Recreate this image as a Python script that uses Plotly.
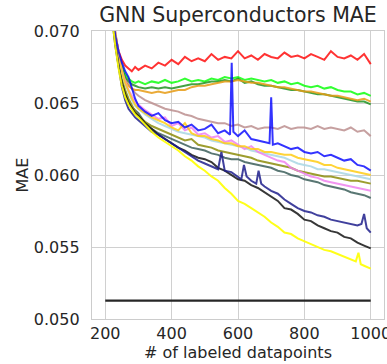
import plotly.graph_objects as go

x_common = [200, 210, 220, 230, 240, 250, 260, 270, 280, 290, 300, 320, 340, 360, 380, 400,
            420, 440, 460, 480, 500, 520, 540, 560, 580, 600, 620, 640, 660, 680, 700, 720,
            740, 760, 780, 800, 820, 840, 860, 880, 900, 920, 940, 960, 980, 1000]

red_y = [0.0790, 0.0752, 0.0718, 0.0698, 0.0686, 0.0680, 0.0676, 0.0674, 0.0672, 0.0675, 0.0673,
         0.0676, 0.0674, 0.0678, 0.0676, 0.0680, 0.0677, 0.0682, 0.0679, 0.0681, 0.0679, 0.0684,
         0.0680, 0.0682, 0.0681, 0.0686, 0.0681, 0.0683, 0.0680, 0.0684, 0.0682, 0.0681, 0.0685,
         0.0682, 0.0683, 0.0681, 0.0684, 0.0682, 0.0680, 0.0686, 0.0682, 0.0681, 0.0683, 0.0680,
         0.0684, 0.0677]
lime_y = [0.0785, 0.0748, 0.0714, 0.0696, 0.0684, 0.0676, 0.0670, 0.0667, 0.0665, 0.0664, 0.0665,
          0.0663, 0.0665, 0.0664, 0.0666, 0.0664, 0.0665, 0.0667, 0.0665, 0.0666, 0.0665, 0.0667,
          0.0666, 0.0668, 0.0667, 0.0668, 0.0666, 0.0667, 0.0666, 0.0665, 0.0666, 0.0664, 0.0665,
          0.0663, 0.0664, 0.0662, 0.0661, 0.0662, 0.0660, 0.0661, 0.0659, 0.0658, 0.0658, 0.0656,
          0.0657, 0.0655]
green_y = [0.0785, 0.0747, 0.0713, 0.0695, 0.0683, 0.0674, 0.0668, 0.0665, 0.0663, 0.0662, 0.0661,
           0.0660, 0.0661, 0.0660, 0.0661, 0.0660, 0.0661, 0.0662, 0.0663, 0.0663, 0.0664, 0.0665,
           0.0665, 0.0666, 0.0665, 0.0667, 0.0664, 0.0665, 0.0663, 0.0662, 0.0662, 0.0661, 0.0660,
           0.0659, 0.0659, 0.0658, 0.0657, 0.0656, 0.0656, 0.0655, 0.0654, 0.0653, 0.0652, 0.0651,
           0.0651, 0.0649]
orange_y = [0.0780, 0.0745, 0.0712, 0.0694, 0.0680, 0.0671, 0.0665, 0.0662, 0.0660, 0.0659, 0.0659,
            0.0658, 0.0657, 0.0658, 0.0657, 0.0658, 0.0659, 0.0659, 0.0661, 0.0662, 0.0662, 0.0663,
            0.0664, 0.0665, 0.0665, 0.0666, 0.0665, 0.0664, 0.0664, 0.0663, 0.0662, 0.0661, 0.0661,
            0.0660, 0.0659, 0.0658, 0.0658, 0.0657, 0.0656, 0.0655, 0.0655, 0.0654, 0.0653, 0.0652,
            0.0653, 0.0651]
rosy_y = [0.0800, 0.0760, 0.0722, 0.0700, 0.0684, 0.0673, 0.0667, 0.0663, 0.0660, 0.0657, 0.0655,
          0.0652, 0.0650, 0.0648, 0.0646, 0.0645, 0.0644, 0.0642, 0.0641, 0.0639, 0.0638, 0.0637,
          0.0636, 0.0636, 0.0634, 0.0635, 0.0633, 0.0634, 0.0632, 0.0633, 0.0633, 0.0632, 0.0634,
          0.0632, 0.0633, 0.0633, 0.0632, 0.0634, 0.0632, 0.0633, 0.0632, 0.0631, 0.0633, 0.0630,
          0.0631, 0.0627]
gold_y = [0.0795, 0.0755, 0.0719, 0.0699, 0.0684, 0.0672, 0.0664, 0.0658, 0.0653, 0.0649, 0.0646,
          0.0643, 0.0640, 0.0638, 0.0636, 0.0633, 0.0631, 0.0636, 0.0629, 0.0627, 0.0627, 0.0625,
          0.0624, 0.0622, 0.0622, 0.0620, 0.0620, 0.0618, 0.0618, 0.0616, 0.0616, 0.0615, 0.0614,
          0.0614, 0.0612, 0.0611, 0.0610, 0.0609, 0.0607, 0.0607, 0.0605, 0.0604, 0.0603, 0.0602,
          0.0601, 0.0600]
lightblue_y = [0.0795, 0.0754, 0.0718, 0.0698, 0.0683, 0.0671, 0.0663, 0.0657, 0.0652, 0.0648, 0.0646,
               0.0642, 0.0639, 0.0636, 0.0634, 0.0632, 0.0630, 0.0629, 0.0628, 0.0627, 0.0626, 0.0624,
               0.0623, 0.0622, 0.0621, 0.0620, 0.0619, 0.0617, 0.0616, 0.0615, 0.0614, 0.0613, 0.0612,
               0.0610, 0.0608, 0.0607, 0.0606, 0.0604, 0.0604, 0.0603, 0.0602, 0.0601, 0.0600, 0.0599,
               0.0598, 0.0597]
violet_y = [0.0800, 0.0758, 0.0720, 0.0699, 0.0684, 0.0673, 0.0665, 0.0659, 0.0655, 0.0651, 0.0649,
            0.0645, 0.0642, 0.0639, 0.0640, 0.0634, 0.0636, 0.0631, 0.0633, 0.0628, 0.0629, 0.0626,
            0.0627, 0.0623, 0.0624, 0.0621, 0.0618, 0.0620, 0.0616, 0.0614, 0.0612, 0.0610, 0.0609,
            0.0605, 0.0603, 0.0601, 0.0599, 0.0598, 0.0596, 0.0595, 0.0594, 0.0593, 0.0592, 0.0591,
            0.0590, 0.0589]
olive_y = [0.0790, 0.0750, 0.0715, 0.0695, 0.0679, 0.0667, 0.0659, 0.0653, 0.0648, 0.0644, 0.0641,
           0.0637, 0.0634, 0.0632, 0.0630, 0.0628, 0.0626, 0.0624, 0.0625, 0.0621, 0.0620, 0.0619,
           0.0617, 0.0616, 0.0615, 0.0614, 0.0613, 0.0612, 0.0610, 0.0609, 0.0608, 0.0607, 0.0606,
           0.0605, 0.0603, 0.0602, 0.0601, 0.0600, 0.0599, 0.0599, 0.0598, 0.0597, 0.0596, 0.0596,
           0.0595, 0.0594]
slate_y = [0.0790, 0.0748, 0.0713, 0.0693, 0.0677, 0.0665, 0.0657, 0.0651, 0.0647, 0.0645, 0.0643,
           0.0636, 0.0632, 0.0629, 0.0627, 0.0625, 0.0623, 0.0621, 0.0619, 0.0618, 0.0617, 0.0615,
           0.0614, 0.0612, 0.0611, 0.0611, 0.0609, 0.0608, 0.0607, 0.0606, 0.0605, 0.0603, 0.0602,
           0.0600, 0.0599, 0.0597, 0.0596, 0.0595, 0.0593, 0.0592, 0.0591, 0.0590, 0.0588, 0.0587,
           0.0586, 0.0584]
black_y = [0.0790, 0.0748, 0.0712, 0.0692, 0.0676, 0.0664, 0.0656, 0.0650, 0.0646, 0.0643, 0.0641,
           0.0636, 0.0632, 0.0628, 0.0625, 0.0622, 0.0619, 0.0617, 0.0614, 0.0612, 0.0611, 0.0609,
           0.0605, 0.0603, 0.0600, 0.0597, 0.0596, 0.0593, 0.0591, 0.0588, 0.0585, 0.0582, 0.0577,
           0.0576, 0.0573, 0.0569, 0.0568, 0.0565, 0.0563, 0.0561, 0.0560, 0.0557, 0.0556, 0.0553,
           0.0551, 0.0549]

blue_x = [200, 210, 220, 230, 240, 250, 260, 270, 280, 290, 300, 320, 340, 360, 380, 400, 420,
          440, 460, 480, 500, 520, 540, 560, 576, 581, 586, 600, 620, 640, 660, 680, 695, 700, 705,
          720, 740, 760, 780, 800, 820, 840, 860, 880, 900, 920, 940, 960, 980, 1000]
blue_y = [0.0790, 0.0750, 0.0716, 0.0697, 0.0686, 0.0678, 0.0672, 0.0668, 0.0660, 0.0653, 0.0648,
          0.0644, 0.0641, 0.0643, 0.0638, 0.0636, 0.0637, 0.0633, 0.0635, 0.0631, 0.0632, 0.0635,
          0.0629, 0.0631, 0.0628, 0.0678, 0.0630, 0.0627, 0.0631, 0.0625, 0.0624, 0.0623, 0.0622,
          0.0654, 0.0621, 0.0622, 0.0620, 0.0618, 0.0619, 0.0616, 0.0615, 0.0616, 0.0613, 0.0614,
          0.0612, 0.0610, 0.0611, 0.0607, 0.0606, 0.0603]

navy_x = [200, 210, 220, 230, 240, 250, 260, 270, 280, 290, 300, 320, 340, 360, 380, 400, 420,
          440, 460, 480, 500, 520, 540, 550, 560, 580, 600, 610, 618, 626, 640, 655, 662, 670, 680,
          700, 720, 740, 760, 780, 800, 820, 840, 860, 880, 900, 920, 940, 960, 972, 980, 988, 1000]
navy_y = [0.0785, 0.0745, 0.0710, 0.0690, 0.0674, 0.0661, 0.0652, 0.0646, 0.0643, 0.0640, 0.0638,
          0.0634, 0.0630, 0.0628, 0.0625, 0.0622, 0.0619, 0.0616, 0.0613, 0.0610, 0.0608, 0.0606,
          0.0604, 0.0616, 0.0603, 0.0602, 0.0599, 0.0597, 0.0607, 0.0599, 0.0596, 0.0594, 0.0603,
          0.0594, 0.0592, 0.0589, 0.0587, 0.0583, 0.0580, 0.0577, 0.0575, 0.0574, 0.0572, 0.0571,
          0.0569, 0.0568, 0.0567, 0.0566, 0.0565, 0.0566, 0.0573, 0.0563, 0.0560]

yellow_x = [200, 210, 220, 230, 240, 250, 260, 270, 280, 290, 300, 320, 340, 360, 380, 400, 420,
            440, 460, 480, 500, 520, 540, 560, 580, 600, 620, 640, 660, 680, 700, 720, 740, 760,
            780, 800, 820, 840, 860, 880, 900, 920, 940, 955, 963, 970, 980, 1000]
yellow_y = [0.0785, 0.0745, 0.0710, 0.0690, 0.0674, 0.0662, 0.0654, 0.0649, 0.0645, 0.0642, 0.0640,
            0.0635, 0.0630, 0.0626, 0.0623, 0.0620, 0.0617, 0.0613, 0.0610, 0.0606, 0.0603, 0.0599,
            0.0596, 0.0591, 0.0587, 0.0582, 0.0580, 0.0577, 0.0574, 0.0571, 0.0567, 0.0564, 0.0560,
            0.0559, 0.0556, 0.0554, 0.0552, 0.0550, 0.0548, 0.0547, 0.0545, 0.0543, 0.0541, 0.0540,
            0.0546, 0.0538, 0.0537, 0.0535]

baseline_x = [200, 1000]
baseline_y = [0.05128, 0.05128]

series = [
    ("rosybrown", x_common, rosy_y, "rgba(188,143,143,0.85)"),
    ("lime", x_common, lime_y, "rgba(0,255,0,0.8)"),
    ("green", x_common, green_y, "rgba(20,140,20,0.8)"),
    ("orange", x_common, orange_y, "rgba(230,155,20,0.85)"),
    ("red", x_common, red_y, "rgba(255,0,0,0.8)"),
    ("darkslategray", x_common, slate_y, "rgba(60,95,90,0.85)"),
    ("olive", x_common, olive_y, "rgba(140,140,10,0.85)"),
    ("lightblue", x_common, lightblue_y, "rgba(173,216,230,0.9)"),
    ("violet", x_common, violet_y, "rgba(238,130,238,0.85)"),
    ("gold", x_common, gold_y, "rgba(255,205,20,0.85)"),
    ("black", x_common, black_y, "rgba(20,20,20,0.85)"),
    ("navy", navy_x, navy_y, "rgba(30,30,140,0.85)"),
    ("blue", blue_x, blue_y, "rgba(0,0,255,0.8)"),
    ("yellow", yellow_x, yellow_y, "rgba(255,255,0,0.9)"),
]

fig = go.Figure()
for name, xs, ys, col in series:
    fig.add_trace(go.Scatter(x=xs, y=ys, mode="lines", name=name,
                             line=dict(color=col, width=2)))
fig.add_trace(go.Scatter(x=baseline_x, y=baseline_y, mode="lines", name="baseline",
                         line=dict(color="#262626", width=2.2)))

font = "DejaVu Sans"
fig.update_layout(
    width=387, height=364,
    margin=dict(l=92, r=3, t=31, b=45, autoexpand=False),
    paper_bgcolor="white", plot_bgcolor="white",
    showlegend=False,
    font=dict(family=font, size=16, color="#262626"),
    title=dict(text="GNN Superconductors MAE", x=0.5, xref="paper", xanchor="center",
               y=1 - 15 / 364, yref="container", yanchor="middle",
               font=dict(family=font, size=20.5, color="#262626")),
)
fig.update_xaxes(range=[160, 1040], tickvals=[200, 400, 600, 800, 1000],
                 ticktext=["200", "400", "600", "800", "1000"],
                 showgrid=True, gridcolor="#d0d0d0", gridwidth=1.3,
                 showline=True, linecolor="#cccccc", linewidth=1.3, mirror=True,
                 zeroline=False, ticks="", tickfont=dict(size=16), automargin=False,
                 ticklabeloverflow="allow",
                 title=dict(text="# of labeled datapoints", standoff=0, font=dict(size=16)))
fig.update_yaxes(range=[0.050, 0.070], tickvals=[0.050, 0.055, 0.060, 0.065, 0.070],
                 ticktext=["0.050", "0.055", "0.060", "0.065", "0.070"],
                 showgrid=True, gridcolor="#d0d0d0", gridwidth=1.3,
                 showline=True, linecolor="#cccccc", linewidth=1.3, mirror=True,
                 zeroline=False, ticks="", ticklabelstandoff=8, tickfont=dict(size=16),
                 automargin=False,
                 title=dict(text="MAE", standoff=1, font=dict(size=16)))

fig.write_html("out.html", config={"displayModeBar": False},
               post_script="document.body.style.margin='0';")
